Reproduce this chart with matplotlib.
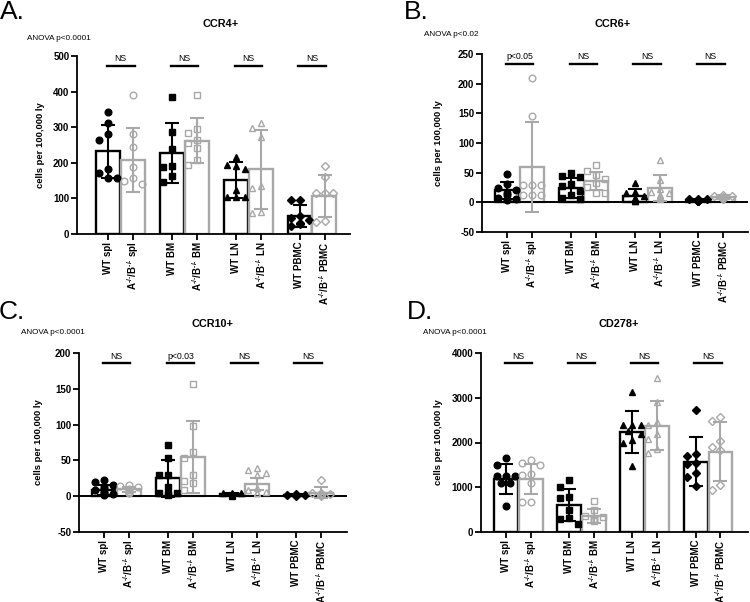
import matplotlib
matplotlib.use("Agg")
import matplotlib.pyplot as plt
import numpy as np

plt.rcParams['font.family'] = ['Liberation Sans', 'DejaVu Sans']
plt.rcParams['mathtext.fontset'] = 'custom'
plt.rcParams['mathtext.rm'] = 'Liberation Sans:bold'
plt.rcParams['mathtext.default'] = 'rm'

# groups
tissues = ["spl", "BM", "LN", "PBMC"]
markers = ["o", "s", "^", "D"]
wt_labels = ["WT " + t for t in tissues]
ko_labels = ["$\\mathregular{A^{\u2010/\u2010}/B^{\u2010/\u2010}}$ " + t for t in tissues]

# A. CCR4+
ccr4_wt_mean = [232, 227, 152, 51]
ccr4_wt_sd = [75, 85, 50, 30]
ccr4_ko_mean = [208, 262, 182, 108]
ccr4_ko_sd = [91, 63, 111, 59]
ccr4_wt_pts = [[342, 313, 281, 264, 183, 170, 156, 156],
               [386, 287, 238, 191, 187, 164, 145],
               [215, 195, 190, 183, 125, 105, 105, 105],
               [95, 95, 50, 46, 40, 32, 28, 23]]
ccr4_ko_pts = [[390, 281, 243, 187, 156, 150, 140],
               [390, 295, 283, 264, 257, 241, 208, 194],
               [312, 299, 272, 135, 128, 63, 58],
               [192, 161, 114, 114, 114, 37, 35]]
ccr4_sig = ["NS", "NS", "NS", "NS"]

# B. CCR6+
ccr6_wt_mean = [20, 24, 11, 4]
ccr6_wt_sd = [14, 17, 11, 1.5]
ccr6_ko_mean = [59, 36, 24, 9]
ccr6_ko_sd = [76, 15, 22, 4]
ccr6_wt_pts = [[48, 31, 25, 20, 15, 12, 8, 6, 4],
               [49, 45, 42, 31, 27, 19, 12, 8, 5],
               [33, 18, 15, 10, 8, 6, 5, 3, 2],
               [6, 5, 5, 4, 4, 3, 3, 2, 2]]
ccr6_ko_pts = [[210, 146, 30, 30, 30, 12, 12, 12],
               [63, 52, 46, 40, 32, 26, 16, 16],
               [72, 38, 22, 18, 16, 12, 10, 6],
               [12, 11, 10, 9, 8, 7, 6, 5]]
ccr6_sig = ["p<0.05", "NS", "NS", "NS"]

# C. CCR10+
ccr10_wt_mean = [9, 25, 2.5, 1.5]
ccr10_wt_sd = [7, 26, 1.5, 1]
ccr10_ko_mean = [9.5, 55, 17, 5]
ccr10_ko_sd = [4, 50, 9, 8]
ccr10_wt_pts = [[22, 20, 16, 13, 10, 8, 6, 5, 3, 2],
                [72, 53, 30, 29, 13, 5, 4, 3, 1],
                [5, 4, 4, 3, 3, 2, 2, 1, 1, 0],
                [3, 2, 2, 2, 1, 1, 1, 0.5]]
ccr10_ko_pts = [[16, 14, 13, 10, 8, 6, 5, 4],
                [157, 98, 62, 53, 30, 21, 18, 8],
                [39, 36, 33, 30, 12, 8, 6, 5, 4],
                [23, 5, 4, 3, 2, 1, 0]]
ccr10_sig = ["NS", "p<0.03", "NS", "NS"]

# D. CD278+
cd278_wt_mean = [1180, 604, 2245, 1574]
cd278_wt_sd = [340, 350, 470, 540]
cd278_ko_mean = [1180, 358, 2372, 1798]
cd278_ko_sd = [340, 150, 545, 650]
cd278_wt_pts = [[1650, 1500, 1250, 1250, 1250, 1100, 1100, 570],
                [1160, 1010, 790, 760, 490, 310, 300, 180],
                [3120, 2400, 2400, 2400, 2250, 2200, 2060, 2000, 1480],
                [2730, 1740, 1700, 1540, 1510, 1310, 1240, 1030]]
cd278_ko_pts = [[1610, 1540, 1500, 1300, 1280, 1090, 660, 660],
                [690, 490, 360, 330, 300, 280, 260, 250],
                [3440, 2900, 2450, 2400, 2200, 2080, 1860, 1760],
                [2580, 2470, 2040, 1910, 1840, 1050, 940]]
cd278_sig = ["NS", "NS", "NS", "NS"]

GRAY = "#a8a8a8"
W, H = 750, 602
msizes = [4.8, 4.6, 5.0, 3.9]

panels = [
    dict(letter="A.", title="CCR4+", anova="ANOVA p<0.0001",
         rect=(77, 56, 350, 234), xlim=(-1.25, 9.67), ylim=(0, 500), yticks=np.arange(0, 501, 100),
         wm=ccr4_wt_mean, ws=ccr4_wt_sd, km=ccr4_ko_mean, ks=ccr4_ko_sd,
         wp=ccr4_wt_pts, kp=ccr4_ko_pts, sig=ccr4_sig,
         let_xy=(0, 0), title_xy=(221, 24), anova_xy=(27, 38), ylab_x=-0.117),
    dict(letter="B.", title="CCR6+", anova="ANOVA p<0.02",
         rect=(482, 54, 748, 232), xlim=(-1.0, 9.64), ylim=(-50, 250), yticks=np.arange(-50, 251, 50),
         wm=ccr6_wt_mean, ws=ccr6_wt_sd, km=ccr6_ko_mean, ks=ccr6_ko_sd,
         wp=ccr6_wt_pts, kp=ccr6_ko_pts, sig=ccr6_sig,
         let_xy=(404, 0), title_xy=(613, 24), anova_xy=(424, 35), ylab_x=-0.147),
    dict(letter="C.", title="CCR10+", anova="ANOVA p<0.0001",
         rect=(79, 353, 347, 532), xlim=(-1.0, 9.7), ylim=(-50, 200), yticks=np.arange(-50, 201, 50),
         wm=ccr10_wt_mean, ws=ccr10_wt_sd, km=ccr10_ko_mean, ks=ccr10_ko_sd,
         wp=ccr10_wt_pts, kp=ccr10_ko_pts, sig=ccr10_sig,
         let_xy=(-1, 300), title_xy=(213, 324), anova_xy=(21, 333), ylab_x=-0.134),
    dict(letter="D.", title="CD278+", anova="ANOVA p<0.0001",
         rect=(481, 353, 748, 532), xlim=(-1.0, 9.76), ylim=(0, 4000), yticks=np.arange(0, 4001, 1000),
         wm=cd278_wt_mean, ws=cd278_wt_sd, km=cd278_ko_mean, ks=cd278_ko_sd,
         wp=cd278_wt_pts, kp=cd278_ko_pts, sig=cd278_sig,
         let_xy=(407, 300), title_xy=(619, 324), anova_xy=(423, 333), ylab_x=-0.141),
]


def spread(vals, px_per_val, px_per_x, step=0.36, mk=8.0):
    # simple beeswarm: put each point in the first free slot
    done, offs = [], []
    for v in vals:
        pick = 0
        for off in (0, -step, step, -step / 2, step / 2):
            clash = any((off - o) ** 2 * px_per_x ** 2 + ((v - u) * px_per_val) ** 2 < mk * mk
                        for o, u in done)
            if not clash:
                pick = off
                break
        done.append((pick, v))
        offs.append(pick)
    return np.array(offs)


fig = plt.figure(figsize=(W / 100, H / 100), dpi=100)


def ftext(x, y, s, **kw):
    fig.text(x / W, 1 - y / H, s, **kw)


for p in panels:
    x0, y0, x1, y1 = p["rect"]
    ax = fig.add_axes([x0 / W, 1 - y1 / H, (x1 - x0) / W, (y1 - y0) / H])
    ax.set_xlim(*p["xlim"])
    ax.set_ylim(*p["ylim"])
    ppv = (y1 - y0) / (p["ylim"][1] - p["ylim"][0])
    ppx = (x1 - x0) / (p["xlim"][1] - p["xlim"][0])

    centers, labels = [], []
    for g in range(4):
        xw = g * 2.55
        xk = xw + 1
        centers += [xw, xk]
        labels += [wt_labels[g], ko_labels[g]]
        ax.bar(xw, p["wm"][g], width=0.96, color="white", edgecolor="black", linewidth=1.7, zorder=1)
        ax.bar(xk, p["km"][g], width=0.96, color="white", edgecolor=GRAY, linewidth=1.7, zorder=1)

        wv = np.array(p["wp"][g], dtype=float)
        kv = np.array(p["kp"][g], dtype=float)
        ax.plot(xw + spread(wv, ppv, ppx), wv, ls="none", marker=markers[g], ms=msizes[g],
                mfc="black", mec="black", zorder=3, clip_on=False)
        ax.plot(xk + spread(kv, ppv, ppx), kv, ls="none", marker=markers[g], ms=msizes[g],
                mfc="none", mec=GRAY, mew=1.0, zorder=3, clip_on=False)

        ax.errorbar(xw, p["wm"][g], yerr=p["ws"][g], fmt="none", ecolor="black",
                    elinewidth=1.5, capsize=5, capthick=1.5, zorder=4)
        ax.errorbar(xk, p["km"][g], yerr=p["ks"][g], fmt="none", ecolor=GRAY,
                    elinewidth=1.5, capsize=5, capthick=1.5, zorder=4)

        # significance bar
        tr = ax.get_xaxis_transform()
        ax.plot([xw - 0.05, xk + 0.05], [0.943, 0.943], color="black", lw=1.7,
                transform=tr, clip_on=False)
        ax.text(xw + 0.5, 0.958, p["sig"][g], transform=tr, ha="center", va="bottom",
                fontsize=6.3)

    if p["ylim"][0] < 0:
        ax.axhline(0, color="black", lw=1.4, zorder=2)

    ax.set_xticks(centers)
    ax.set_xticklabels(labels, rotation=90, fontsize=7, fontweight="bold")
    ax.set_yticks(p["yticks"])
    ax.set_yticklabels([str(int(t)) for t in p["yticks"]], fontsize=7, fontweight="bold")
    ax.tick_params(axis="both", direction="out", length=4, width=1.3, pad=1.5)
    for s in ("top", "right"):
        ax.spines[s].set_visible(False)
    for s in ("left", "bottom"):
        ax.spines[s].set_linewidth(1.3)
    ax.set_ylabel("cells per 100,000 ly", fontsize=6.8, fontweight="bold")
    ax.yaxis.set_label_coords(p["ylab_x"], 0.5)

    ftext(p["let_xy"][0], p["let_xy"][1], p["letter"], fontsize=19, va="top", ha="left")
    ftext(p["title_xy"][0], p["title_xy"][1], p["title"], fontsize=7.8, fontweight="bold",
          ha="center", va="center")
    ftext(p["anova_xy"][0], p["anova_xy"][1], p["anova"], fontsize=5.9, ha="left", va="center")

fig.savefig("out.png", dpi=100)
